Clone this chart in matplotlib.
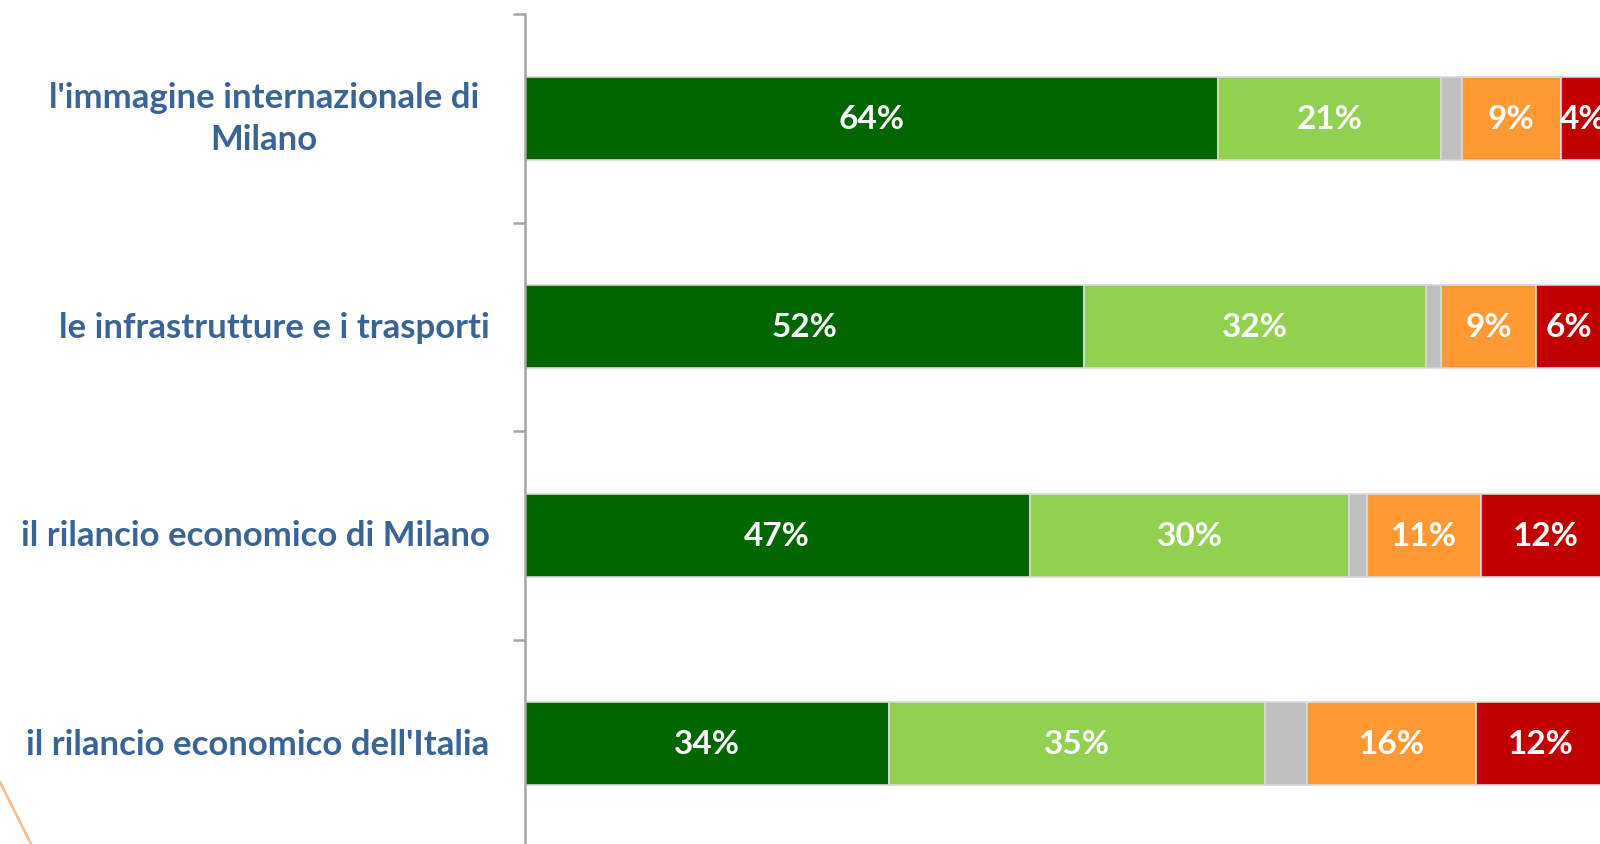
import matplotlib.pyplot as plt
from matplotlib.lines import Line2D
import numpy as np

# data (percent, labels are rounded)
categories = [
    "l'immagine internazionale di\nMilano",
    "le infrastrutture e i trasporti",
    "il rilancio economico di Milano",
    "il rilancio economico dell'Italia",
]
molto = [64.1, 51.7, 46.7, 33.7]
abbastanza = [20.7, 31.7, 29.6, 34.8]
non_sa = [1.9, 1.4, 1.6, 3.9]
poco = [9.2, 8.8, 10.6, 15.6]
per_niente = [4, 6, 12, 12]

series = [molto, abbastanza, non_sa, poco, per_niente]
colors = ['#006600', '#92d050', '#bfbfbf', '#ff9933', '#c00000']
show_label = [True, True, False, True, True]

plt.rcParams['font.family'] = ['Lato', 'DejaVu Sans']

fig = plt.figure(figsize=(16, 8.45), dpi=100)
ax = fig.add_axes([525 / 1600, 0, 1 - 525 / 1600, 1 - 15 / 845])

y = np.arange(len(categories))
left = np.zeros(len(categories))
for vals, col, lab in zip(series, colors, show_label):
    vals = np.array(vals, dtype=float)
    ax.barh(y, vals, left=left, height=0.40, color=col,
            edgecolor='#d9d9d9', linewidth=1.2)
    if lab:
        for yi, (l, v) in enumerate(zip(left, vals)):
            ax.text(l + v / 2, yi, f"{v:.0f}%", ha='center', va='center',
                    color='white', fontsize=24, fontweight='bold')
    left += vals

ax.set_xlim(0, 99.5)
ax.set_ylim(-0.5 + 830 / 208.5, -0.5)

# category labels
label_color = '#3a6396'
for yi, cat in enumerate(categories):
    ax.text(-0.033 if yi else -0.043, yi, cat, transform=ax.get_yaxis_transform(),
            ha='right', va='center', multialignment='center',
            color=label_color, fontsize=25, fontweight='bold',
            linespacing=1.4)

ax.set_yticks([-0.5, 0.5, 1.5, 2.5])
ax.set_yticklabels([])
ax.tick_params(axis='y', length=9, width=1.8, color='#a6a6a6', direction='out')
ax.set_xticks([])
for s in ['top', 'right', 'bottom']:
    ax.spines[s].set_visible(False)
ax.spines['left'].set_color('#a6a6a6')
ax.spines['left'].set_linewidth(1.8)

# decorative orange stroke in the lower left corner
fig.add_artist(Line2D([0, 31 / 1600], [1 - 783 / 845, 0],
                      transform=fig.transFigure, color='#fac090', linewidth=2))

fig.savefig('out.png', dpi=100)
